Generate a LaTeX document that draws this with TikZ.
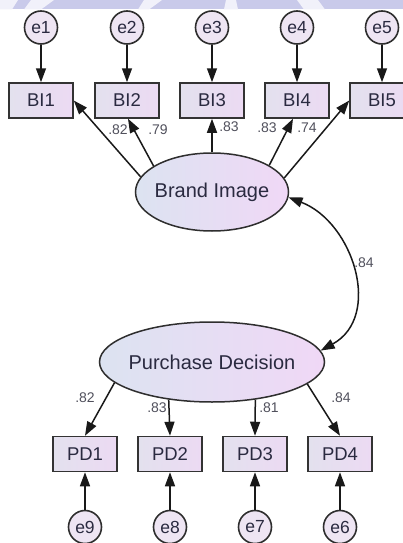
\documentclass[tikz,border=0pt]{standalone}
\usepackage{fontspec}
\setmainfont{Liberation Sans}
\usetikzlibrary{arrows.meta,shapes.geometric}

\definecolor{ink}{HTML}{2A2A40}
\definecolor{estgray}{HTML}{50505C}
\definecolor{boxL}{HTML}{E3E1EE}
\definecolor{boxR}{HTML}{ECDAF3}
\definecolor{latL}{HTML}{DCE3F1}
\definecolor{latR}{HTML}{F0D8F6}
\definecolor{errfill}{HTML}{EEE5F3}
\definecolor{bandcol}{HTML}{C9CAEA}
\definecolor{bandgap}{HTML}{F1F1FA}

\begin{document}
\begin{tikzpicture}[x=1pt,y=-1pt,
  tipA/.style={-{Triangle[length=14pt,width=10pt]}},
  conn/.style={draw=black!90, line width=1.5pt, tipA},
  obs/.style={rectangle, draw=black!80, line width=1.5pt,
    minimum width=64pt, minimum height=35pt, inner sep=0pt,
    left color=boxL, right color=boxR, text=ink,
    font=\fontsize{18.5}{18.5}\selectfont},
  lat/.style={ellipse, draw=black!82, line width=1.5pt, inner sep=0pt,
    left color=latL, right color=latR, text=ink,
    font=\fontsize{20}{20}\selectfont},
  err/.style={circle, draw=black!82, line width=1.6pt, minimum size=33pt,
    inner sep=0pt, fill=errfill, text=ink,
    font=\fontsize{17.5}{17.5}\selectfont},
  est/.style={inner sep=0pt, text=estgray, font=\fontsize{14}{14}\selectfont}
]
\useasboundingbox (0,0) rectangle (403,543);

% faint banner strip along the top edge
\fill[bandcol] (0,0) rectangle (403,9.5);
\fill[bandgap] (0,0) -- (18,0) -- (12,9.5) -- (0,9.5) -- cycle;
\fill[bandgap] (31,0) -- (54,0) -- (41,9.5) -- (24,9.5) -- cycle;
\fill[bandgap] (144,0) -- (162,0) -- (149,9.5) -- (138,9.5) -- cycle;
\fill[bandgap] (226,0) -- (236,0) -- (238,9.5) -- (224,9.5) -- cycle;
\fill[bandgap] (297,0) -- (318,0) -- (325,9.5) -- (304,9.5) -- cycle;

% latent variables
\node[lat, minimum width=153pt, minimum height=78pt] (bi) at (212,192) {\makebox[0pt]{Brand Image}};
\node[lat, minimum width=225pt, minimum height=80pt] (pd) at (212,362) {\makebox[0pt]{Purchase Decision}};

% Brand Image indicators and their errors
\node[obs] (BI1) at (41,100.5) {BI1};
\node[obs] (BI2) at (127,100.5) {BI2};
\node[obs] (BI3) at (212,100.5) {BI3};
\node[obs] (BI4) at (297,100.5) {BI4};
\node[obs] (BI5) at (382,100.5) {BI5};

\node[err] (e1) at (41,27.5) {e1};
\node[err] (e2) at (127,27.5) {e2};
\node[err] (e3) at (212,27.5) {e3};
\node[err] (e4) at (297,27.5) {e4};
\node[err] (e5) at (382,27.5) {e5};

% Purchase Decision indicators and their errors
\node[obs] (PD1) at (85,454) {PD1};
\node[obs] (PD2) at (170,454) {PD2};
\node[obs] (PD3) at (255,454) {PD3};
\node[obs] (PD4) at (340,454) {PD4};

\node[err] (e9) at (85,527) {e9};
\node[err] (e8) at (170,527) {e8};
\node[err] (e7) at (255,527) {e7};
\node[err] (e6) at (340,527) {e6};

% error paths
\foreach \i in {1,...,5} \draw[conn] (e\i) -- (BI\i);
\draw[conn] (e9) -- (PD1);
\draw[conn] (e8) -- (PD2);
\draw[conn] (e7) -- (PD3);
\draw[conn] (e6) -- (PD4);

% loadings
\draw[conn] (bi.168) -- (BI1.east);
\draw[conn] (bi.156) -- ([xshift=1pt]BI2.south);
\draw[conn] (bi.90) -- (BI3.south);
\draw[conn] (bi.25) -- ([xshift=-4pt]BI4.south);
\draw[conn] (bi.11) -- (BI5.west);

\draw[conn] (pd.192) -- (PD1.north);
\draw[conn] (pd.221.4) -- (PD2.north);
\draw[conn] (pd.319.4) -- (PD3.north);
\draw[conn] (pd.347) -- (PD4.north);

% correlation between the latent variables
\draw[draw=black!90, line width=1.5pt,
  {Triangle[length=14pt,width=10pt]}-{Triangle[length=14pt,width=10pt]}]
  (bi.-4) .. controls +(65,25) and +(62,-34) .. (pd.6);

% standardized estimates
\node[est] (l1) at (118,130) {.82};
\node[est] (l2) at (158,130) {.79};
\node[est] (l3) at (229,127) {.83};
\node[est] (l4) at (267,128) {.83};
\node[est] (l5) at (307,128) {.74};
\node[est] (l6) at (85,398) {.82};
\node[est] (l7) at (157,408) {.83};
\node[est] (l8) at (269,408) {.81};
\node[est] (l9) at (341,398) {.84};
\node[est] (lc) at (364,263) {.84};
\end{tikzpicture}
\end{document}
